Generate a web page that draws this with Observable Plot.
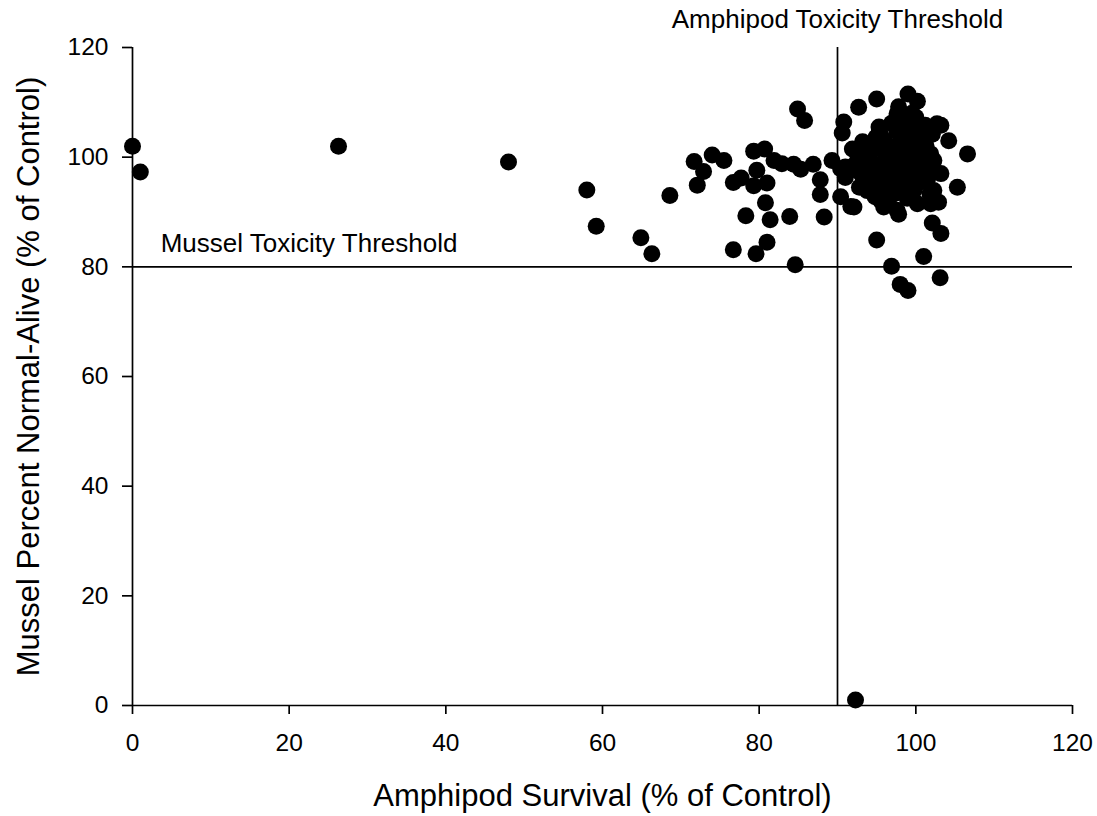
<!DOCTYPE html>
<html>
<head>
<meta charset="utf-8">
<script src="https://cdn.jsdelivr.net/npm/d3@7"></script>
<script src="https://cdn.jsdelivr.net/npm/@observablehq/plot@0.6"></script>
<style>
  html, body { margin: 0; padding: 0; background: #fff; }
  #chart { width: 1097px; height: 816px; }
</style>
</head>
<body>
<div id="chart"></div>
<script>
// Amphipod survival (% of control) — x values
const amphipodSurvival = [
  0, 1.0, 26.3, 48.0,
  58.0, 59.2, 64.9, 66.3, 68.6, 71.7, 72.9, 72.1, 74.0, 75.5, 76.7, 77.7, 78.3, 76.7,
  79.3, 80.7, 79.7, 79.3, 81.0, 80.8, 81.4, 79.6, 81.0, 83.9, 84.6, 81.9, 82.9, 84.4,
  85.3, 86.9, 87.8, 87.8, 88.3, 84.9, 85.8, 89.3, 90.8, 90.6, 90.4, 91.7, 91.0, 90.4,
  91.9, 92.7, 92.2,
  95.0, 99.0, 100.2, 97.8, 97.6, 100.0, 101.2, 103.2, 102.1, 104.2, 106.6, 95.5, 94.9,
  101.9, 102.3, 103.2,
  105.3, 102.9, 101.9, 92.1, 95.9, 97.8, 102.1, 103.2, 95.0, 101.0, 96.9, 103.1, 98.0, 99.0,
  91.0, 92.5, 95.3, 94.6, 102.7, 102.3, 93.6, 93.8, 95.5, 97.6, 100.2,
  93.5, 94.2, 94.0, 95.0, 95.2, 95.8, 95.5, 96.2, 96.4, 96.0, 96.8, 97.0, 97.2, 97.4,
  97.6, 97.9, 98.1, 98.3, 98.5, 98.7, 98.9, 99.0, 99.2, 99.4, 99.6, 99.8, 100.1, 100.3,
  100.5, 100.7, 101.0, 101.3, 101.5, 101.8, 96.5, 94.8, 92.8, 93.2, 98.0, 96.9, 99.5,
  100.6, 101.8, 95.3, 94.0,
  93.0, 92.6, 94.4, 96.0, 99.0, 97.2, 93.8, 100.9, 98.4,
  92.3
];
// Mussel percent normal-alive (% of control) — y values
const musselNormalAlive = [
  102.0, 97.3, 102.0, 99.1,
  94.0, 87.4, 85.3, 82.4, 93.0, 99.2, 97.4, 94.9, 100.4, 99.4, 95.4, 96.2, 89.3, 83.1,
  101.1, 101.5, 97.6, 94.8, 95.3, 91.7, 88.6, 82.4, 84.5, 89.2, 80.4, 99.4, 98.8, 98.7,
  97.8, 98.7, 95.9, 93.2, 89.1, 108.8, 106.7, 99.4, 106.4, 104.4, 92.8, 91.0, 96.3, 97.9,
  101.5, 109.1, 98.6,
  110.6, 111.5, 110.2, 109.2, 107.9, 107.3, 105.8, 105.8, 104.2, 103.0, 100.6, 104.2, 103.6,
  100.6, 99.4, 97.0,
  94.5, 91.8, 91.5, 90.9, 90.9, 89.6, 88.0, 86.1, 84.9, 81.9, 80.1, 78.0, 76.8, 75.7,
  98.2, 97.6, 104.5, 102.4, 106.1, 93.9, 95.7, 93.9, 92.1, 90.3, 91.5,
  99.0, 97.0, 100.5, 98.5, 96.0, 101.2, 94.3, 99.8, 97.3, 103.0, 95.2, 101.8, 98.6, 93.4,
  104.6, 96.4, 100.2, 102.9, 94.8, 98.0, 92.5, 105.3, 99.5, 96.8, 101.9, 94.0, 103.4, 97.6,
  100.8, 95.5, 98.9, 102.1, 96.0, 93.3, 91.8, 92.8, 94.5, 102.8, 107.0, 106.2, 108.0,
  105.0, 97.7, 105.5, 95.2,
  97.0, 100.2, 99.0, 93.0, 93.8, 95.0, 101.5, 104.0, 97.2,
  1.0
];
const xTicks = [0, 20, 40, 60, 80, 100, 120];
const yTicks = [0, 20, 40, 60, 80, 100, 120];
const amphipodThreshold = 90;
const musselThreshold = 80;
const xTitle = "Amphipod Survival (% of Control)";
const yTitle = "Mussel Percent Normal-Alive (% of Control)";
const amphipodLabel = "Amphipod Toxicity Threshold";
const musselLabel = "Mussel Toxicity Threshold";

const points = amphipodSurvival.map((x, i) => ({x, y: musselNormalAlive[i]}));

const chart = Plot.plot({
  width: 1097,
  height: 816,
  marginLeft: 132,
  marginRight: 25,
  marginTop: 47,
  marginBottom: 111,
  style: {fontFamily: "'Liberation Sans', Arial, sans-serif", color: "#000", background: "#fff", overflow: "visible"},
  x: {domain: [0, 120], ticks: xTicks},
  y: {domain: [0, 120], ticks: yTicks},
  marks: [
    Plot.axisX({ticks: xTicks, tickSize: 9, tickPadding: 19, fontSize: 24.5, label: null, strokeWidth: 1.7}),
    Plot.axisY({ticks: yTicks, tickSize: 10, tickPadding: 14, fontSize: 24.5, label: null, strokeWidth: 1.7}),
    Plot.ruleX([0], {stroke: "#000", strokeWidth: 1.7}),
    Plot.ruleY([0], {stroke: "#000", strokeWidth: 1.7}),
    Plot.ruleX([amphipodThreshold], {stroke: "#000", strokeWidth: 1.7}),
    Plot.ruleY([musselThreshold], {stroke: "#000", strokeWidth: 1.7}),
    Plot.dot(points, {x: "x", y: "y", r: 8.5, fill: "#000", stroke: "none", clip: false}),
    Plot.text([musselLabel], {x: 3.6, y: musselThreshold, text: d => d, textAnchor: "start", lineAnchor: "middle", dy: -23.5, fontSize: 26, fill: "#000"}),
    Plot.text([amphipodLabel], {x: amphipodThreshold, y: 120, text: d => d, textAnchor: "middle", lineAnchor: "middle", dy: -28, fontSize: 26, fill: "#000"}),
    Plot.text([xTitle], {frameAnchor: "bottom", text: d => d, textAnchor: "middle", lineAnchor: "middle", dy: 91, fontSize: 31, fill: "#000"}),
    Plot.text([yTitle], {frameAnchor: "left", text: d => d, textAnchor: "middle", lineAnchor: "middle", rotate: -90, dx: -103, fontSize: 31, fill: "#000"})
  ]
});
document.getElementById("chart").appendChild(chart);
</script>
</body>
</html>
